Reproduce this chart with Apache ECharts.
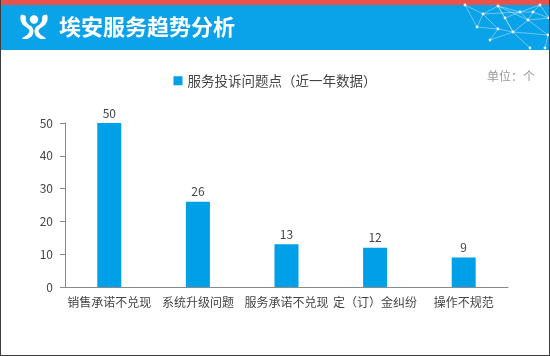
<!DOCTYPE html>
<html>
<head>
<meta charset="utf-8">
<script src="https://cdn.jsdelivr.net/npm/echarts@6/dist/echarts.min.js"></script>
<style>
html,body{margin:0;padding:0;background:#fff;}
#wrap{position:relative;width:550px;height:356px;}
#c{width:550px;height:356px;}
#frame{position:absolute;left:0;top:0;width:550px;height:356px;box-sizing:border-box;border-left:1px solid #3c3c3c;border-right:1px solid #3c3c3c;border-bottom:1px solid #3c3c3c;pointer-events:none;}
</style>
</head>
<body>
<div id="wrap"><div id="c"></div><div id="frame"></div></div>
<script>
const pageTitle = '埃安服务趋势分析';
const seriesName = '服务投诉问题点（近一年数据）';
const unitText = '单位：个';
const categories = ['销售承诺不兑现', '系统升级问题', '服务承诺不兑现', '定（订）金纠纷', '操作不规范'];
const values = [50, 26, 13, 12, 9];
const yTicks = [0, 10, 20, 30, 40, 50];

const FONT = '"Noto Sans CJK SC", "Microsoft YaHei", sans-serif';
const chart = echarts.init(document.getElementById('c'), null, {renderer: 'canvas'});

// decorative network in header corner
const nodes = [[465,5],[483,14],[498,6],[520,12],[533,12],[528,20],[513,32],[498,29],[548,35],[477,27],[540,5],[549,18],[545,48],[530,48],[505,18],[490,40]];
const links = [[0,1],[1,2],[2,3],[3,4],[1,3],[3,5],[4,5],[5,6],[6,7],[7,1],[5,8],[6,8],[9,1],[9,7],[2,5],[4,10],[3,10],[4,11],[8,12],[6,13],[5,11],[2,6],[14,2],[14,6],[14,3],[15,7],[15,6],[0,9],[10,11]];
const netGraphics = links.map(l => ({
  type: 'line', silent: true,
  shape: {x1: nodes[l[0]][0], y1: nodes[l[0]][1], x2: nodes[l[1]][0], y2: nodes[l[1]][1]},
  style: {stroke: 'rgba(255,255,255,0.4)', lineWidth: 1}
})).concat(nodes.map(n => ({
  type: 'circle', silent: true, shape: {cx: n[0], cy: n[1], r: 1.4},
  style: {fill: 'rgba(255,255,255,0.9)'}
})));

const leftArm = [[21,15],[20.5,20],[23,25],[28,28.5],[29.5,31],[27.5,34.5],[22,38.5],[27,39],[32,36],[33.5,31],[32,27],[28.5,24.5],[26,21],[25.5,16]];
const rightArm = leftArm.map(p => [68 - p[0], p[1]]);

chart.setOption({
  animation: false,
  textStyle: {fontFamily: FONT},
  graphic: [
    {type: 'rect', shape: {x: 0, y: 0, width: 550, height: 5}, style: {fill: '#E9534C'}, silent: true},
    {type: 'rect', shape: {x: 0, y: 5, width: 550, height: 45}, style: {fill: '#0AA2E9'}, silent: true},
    ...netGraphics,
    {type: 'circle', shape: {cx: 34, cy: 19.5, r: 4.2}, style: {fill: '#fff'}, silent: true},
    {type: 'polygon', silent: true, shape: {points: leftArm, smooth: 0.25}, style: {fill: '#fff'}},
    {type: 'polygon', silent: true, shape: {points: rightArm, smooth: 0.25}, style: {fill: '#fff'}},
    {type: 'text', left: 59, top: 16, silent: true,
      style: {text: pageTitle, fill: '#fff', font: 'bold 22px ' + FONT}},
    {type: 'text', right: 15, top: 70, silent: true,
      style: {text: unitText, fill: '#9a9a9a', font: '12px ' + FONT}}
  ],
  legend: {
    top: 69, left: 'center',
    itemWidth: 9, itemHeight: 9, icon: 'rect', itemGap: 6,
    textStyle: {fontSize: 13.5, color: '#444', fontFamily: FONT},
    data: [seriesName]
  },
  grid: {left: 65, right: 42, top: 123, bottom: 69, containLabel: false},
  xAxis: {
    type: 'category', data: categories,
    axisLine: {lineStyle: {color: '#8a8a8a'}},
    axisTick: {show: false},
    axisLabel: {color: '#444', fontSize: 12, margin: 9, interval: 0, fontFamily: FONT}
  },
  yAxis: {
    type: 'value', min: 0, max: 50, interval: 10,
    axisLine: {show: true, lineStyle: {color: '#8a8a8a'}},
    axisTick: {show: true, length: 5, lineStyle: {color: '#8a8a8a'}},
    axisLabel: {color: '#444', fontSize: 12, margin: 12, fontFamily: FONT},
    splitLine: {show: false}
  },
  series: [{
    name: seriesName, type: 'bar', data: values, barWidth: 24,
    itemStyle: {color: '#00A0E9'},
    label: {show: true, position: 'top', color: '#444', fontSize: 12, distance: 4, fontFamily: FONT}
  }]
});
</script>
</body>
</html>
